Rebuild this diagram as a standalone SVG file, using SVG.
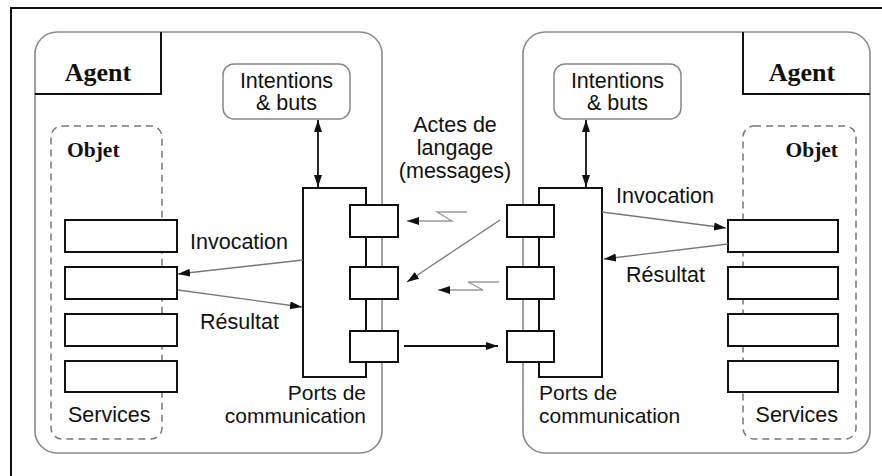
<svg xmlns="http://www.w3.org/2000/svg" width="882" height="476" viewBox="0 0 882 476">
<style>
.sans{font-family:"Liberation Sans",Arial,sans-serif;font-size:21.5px;fill:#111}
.ports{font-size:21px}
.serif{font-family:"Liberation Serif","Times New Roman",serif;font-weight:bold;fill:#111}
.agent{fill:none;stroke:#8a8a8a;stroke-width:1.6}
.blk{fill:#fff;stroke:#111;stroke-width:2}
.lbl{fill:none;stroke:#111;stroke-width:2}
.dash{fill:none;stroke:#777;stroke-width:1.5;stroke-dasharray:7 5}
.intent{fill:#fff;stroke:#888;stroke-width:1.5}
.thin{fill:none;stroke:#777;stroke-width:1.3}
.msg{fill:none;stroke:#999;stroke-width:1.3}
.bold{fill:none;stroke:#111;stroke-width:1.8}
</style>
<defs>
<marker id="ah" markerUnits="userSpaceOnUse" markerWidth="14" markerHeight="10" refX="12" refY="4" orient="auto-start-reverse">
<path d="M0,0 L12,4 L0,8 z" fill="#111"/>
</marker>
</defs>
<rect width="882" height="476" fill="#fff"/>
<g id="frame">
<path d="M11,476 L11,8 L882,8" fill="none" stroke="#111" stroke-width="2"/>
</g>

<g id="agent-left">
<rect class="agent" x="35" y="32" width="347" height="421" rx="22"/>
<path class="lbl" d="M161,32 L161,94 L35,94"/>
<text class="serif" x="98" y="81" font-size="26" text-anchor="middle">Agent</text>
</g>
<g id="intentions-left">
<rect class="intent" x="223" y="64" width="127" height="55" rx="11"/>
<text class="sans" x="286.5" y="88" text-anchor="middle">Intentions</text>
<text class="sans" x="286.5" y="110" text-anchor="middle">&amp; buts</text>
</g>
<g id="objet-left">
<rect class="dash" x="51" y="126" width="111" height="313" rx="11"/>
<text class="serif" x="67" y="157" font-size="21.5">Objet</text>
<rect class="blk" x="65" y="220" width="112" height="32"/>
<rect class="blk" x="65" y="267" width="112" height="32"/>
<rect class="blk" x="65" y="314" width="112" height="32"/>
<rect class="blk" x="65" y="361" width="112" height="31"/>
<text class="sans" x="68" y="422">Services</text>
</g>
<g id="ports-left">
<rect class="blk" x="303" y="188" width="63" height="189"/>
<rect class="blk" x="350" y="205" width="48" height="32"/>
<rect class="blk" x="350" y="267" width="48" height="32"/>
<rect class="blk" x="350" y="331" width="48" height="31"/>
<text class="sans ports" x="366" y="400" text-anchor="end">Ports de</text>
<text class="sans ports" x="366" y="423" text-anchor="end">communication</text>
</g>

<g id="agent-right">
<rect class="agent" x="523" y="32" width="347" height="421" rx="22"/>
<path class="lbl" d="M743,32 L743,94 L870,94"/>
<text class="serif" x="802" y="81" font-size="26" text-anchor="middle">Agent</text>
</g>
<g id="intentions-right">
<rect class="intent" x="554" y="64" width="127" height="55" rx="11"/>
<text class="sans" x="617.5" y="88" text-anchor="middle">Intentions</text>
<text class="sans" x="617.5" y="110" text-anchor="middle">&amp; buts</text>
</g>
<g id="objet-right">
<rect class="dash" x="743" y="126" width="113" height="313" rx="11"/>
<text class="serif" x="838" y="157" font-size="21.5" text-anchor="end">Objet</text>
<rect class="blk" x="728" y="220" width="110" height="32"/>
<rect class="blk" x="728" y="267" width="110" height="32"/>
<rect class="blk" x="728" y="314" width="110" height="32"/>
<rect class="blk" x="728" y="361" width="110" height="31"/>
<text class="sans" x="838" y="422" text-anchor="end">Services</text>
</g>
<g id="ports-right">
<rect class="blk" x="539" y="188" width="63" height="189"/>
<rect class="blk" x="507" y="205" width="47" height="32"/>
<rect class="blk" x="507" y="267" width="47" height="32"/>
<rect class="blk" x="507" y="331" width="47" height="31"/>
<text class="sans ports" x="539" y="400">Ports de</text>
<text class="sans ports" x="539" y="423">communication</text>
</g>

<g id="labels">
<text class="sans" x="455" y="132" text-anchor="middle">Actes de</text>
<text class="sans" x="455" y="155" text-anchor="middle">langage</text>
<text class="sans" x="455" y="178" text-anchor="middle">(messages)</text>
<text class="sans" x="190" y="249">Invocation</text>
<text class="sans" x="200" y="329">Résultat</text>
<text class="sans" x="616" y="203">Invocation</text>
<text class="sans" x="626" y="282">Résultat</text>
</g>

<g id="connectors">
<line class="bold" x1="318" y1="120" x2="318" y2="187" marker-start="url(#ah)" marker-end="url(#ah)"/>
<line class="bold" x1="586" y1="120" x2="586" y2="187" marker-start="url(#ah)" marker-end="url(#ah)"/>
<line class="thin" x1="303" y1="260" x2="178" y2="274" marker-end="url(#ah)"/>
<line class="thin" x1="178" y1="290" x2="302" y2="307" marker-end="url(#ah)"/>
<line class="thin" x1="602" y1="212" x2="726" y2="228" marker-end="url(#ah)"/>
<line class="thin" x1="728" y1="244" x2="604" y2="259" marker-end="url(#ah)"/>
<path class="msg" d="M467,212 L437,212 L452,221 L407,221" marker-end="url(#ah)"/>
<line class="thin" x1="500" y1="220" x2="407" y2="282" marker-end="url(#ah)"/>
<path class="msg" d="M499,282 L468,282 L483,290 L438,290" marker-end="url(#ah)"/>
<line class="bold" x1="404" y1="346" x2="498" y2="346" marker-end="url(#ah)"/>
</g>
</svg>
